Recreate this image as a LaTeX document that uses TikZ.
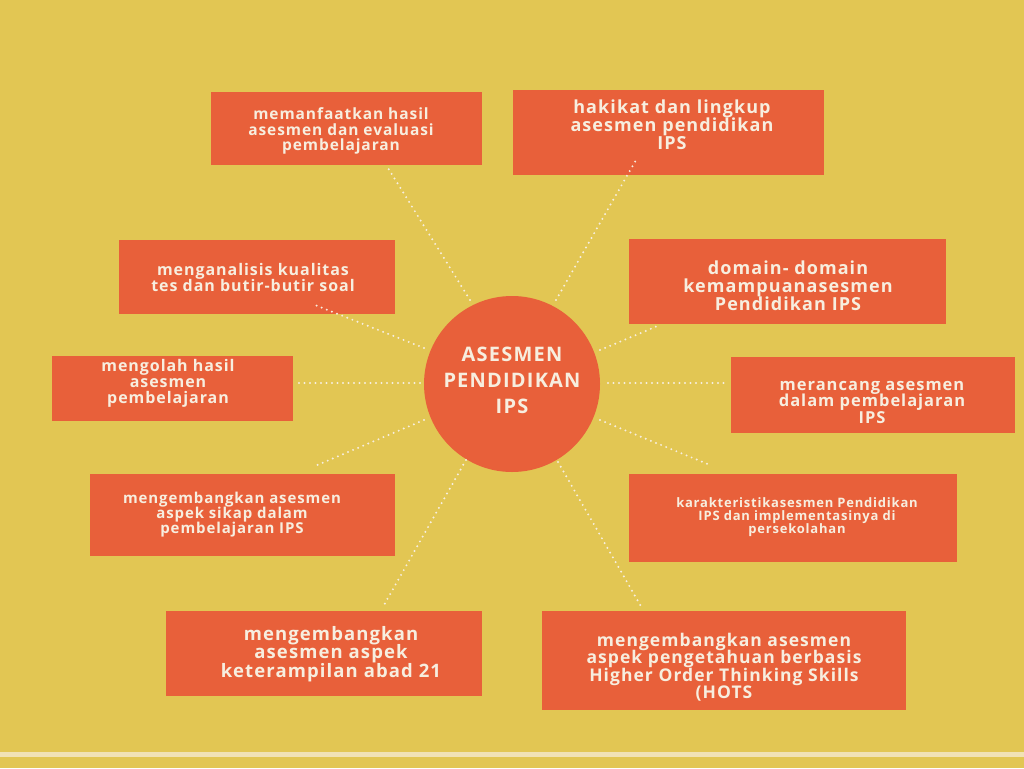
\documentclass[tikz,border=0pt]{standalone}
\usepackage{fontspec}
\setmainfont{Open Sans}[BoldFont={* Bold},LetterSpace=6]
\definecolor{bg}{HTML}{E2C653}
\definecolor{bx}{HTML}{E8603A}
\definecolor{tx}{HTML}{F7EEDF}
\begin{document}
\begin{tikzpicture}[x=1pt,y=-1pt,
  bx/.style={fill=bx,draw=none},
  lb/.style={text=tx,font=\bfseries\fontsize{#1}{#1}\selectfont,align=center,inner sep=0},
  dl/.style={draw=tx,line width=2.2pt,dash pattern=on 0pt off 5.5pt,line cap=round}]
\fill[bg] (0,0) rectangle (1024,768);
\fill[tx!70!bg] (0,752) rectangle (1024,757);
\useasboundingbox (0,0) rectangle (1024,768);
\fill[bx] (512,384) circle (88);
\node[lb=20] (c) at (512,380) {ASESMEN\\[6pt]PENDIDIKAN\\[6pt]IPS};
\fill[bx] (211,92) rectangle (482,165); \node[lb=15.5] (b1) at (341,131) {memanfaatkan hasil\\asesmen dan evaluasi\\pembelajaran};
\fill[bx] (513,90) rectangle (824,175); \node[lb=18] (b2) at (672,125) {hakikat dan lingkup\\asesmen pendidikan\\IPS};
\fill[bx] (119,240) rectangle (395,314); \node[lb=16] (b3) at (253,277) {menganalisis kualitas\\tes dan butir-butir soal};
\fill[bx] (629,239) rectangle (946,324); \node[lb=18] (b4) at (788,286) {domain- domain\\kemampuanasesmen\\Pendidikan IPS};
\fill[bx] (52,356) rectangle (293,421); \node[lb=16] (b5) at (168,383) {mengolah hasil\\asesmen\\pembelajaran};
\fill[bx] (731,357) rectangle (1015,433); \node[lb=16.5] (b6) at (872,402) {merancang asesmen\\dalam pembelajaran\\IPS};
\fill[bx] (90,474) rectangle (395,556); \node[lb=15] (b7) at (232,515) {mengembangkan asesmen\\aspek sikap dalam\\pembelajaran IPS};
\fill[bx] (629,474) rectangle (957,562); \node[lb=13] (b8) at (797,517) {karakteristikasesmen Pendidikan\\IPS dan implementasinya di\\persekolahan};
\fill[bx] (166,611) rectangle (482,696); \node[lb=18.5] (b9) at (331,654) {mengembangkan\\asesmen aspek\\keterampilan abad 21};
\fill[bx] (542,611) rectangle (906,710); \node[lb=17.5] (b10) at (724,667) {mengembangkan asesmen\\aspek pengetahuan berbasis\\Higher Order Thinking Skills\\(HOTS};
\foreach \n/\a/\b/\c/\d in {1/470/300/388/168, 2/556/300/636/160, 3/424/348/315/305, 4/600/350/660/325, 5/420/383/298/383, 6/608/383/725/383, 7/424/420/315/466, 8/600/420/710/465, 9/466/460/384/605, 10/558/462/642/608}{
  \coordinate (s\n) at (\a,\b); \coordinate (e\n) at (\c,\d);
  \draw[dl] (s\n) -- (e\n);}
\end{tikzpicture}
\end{document}
